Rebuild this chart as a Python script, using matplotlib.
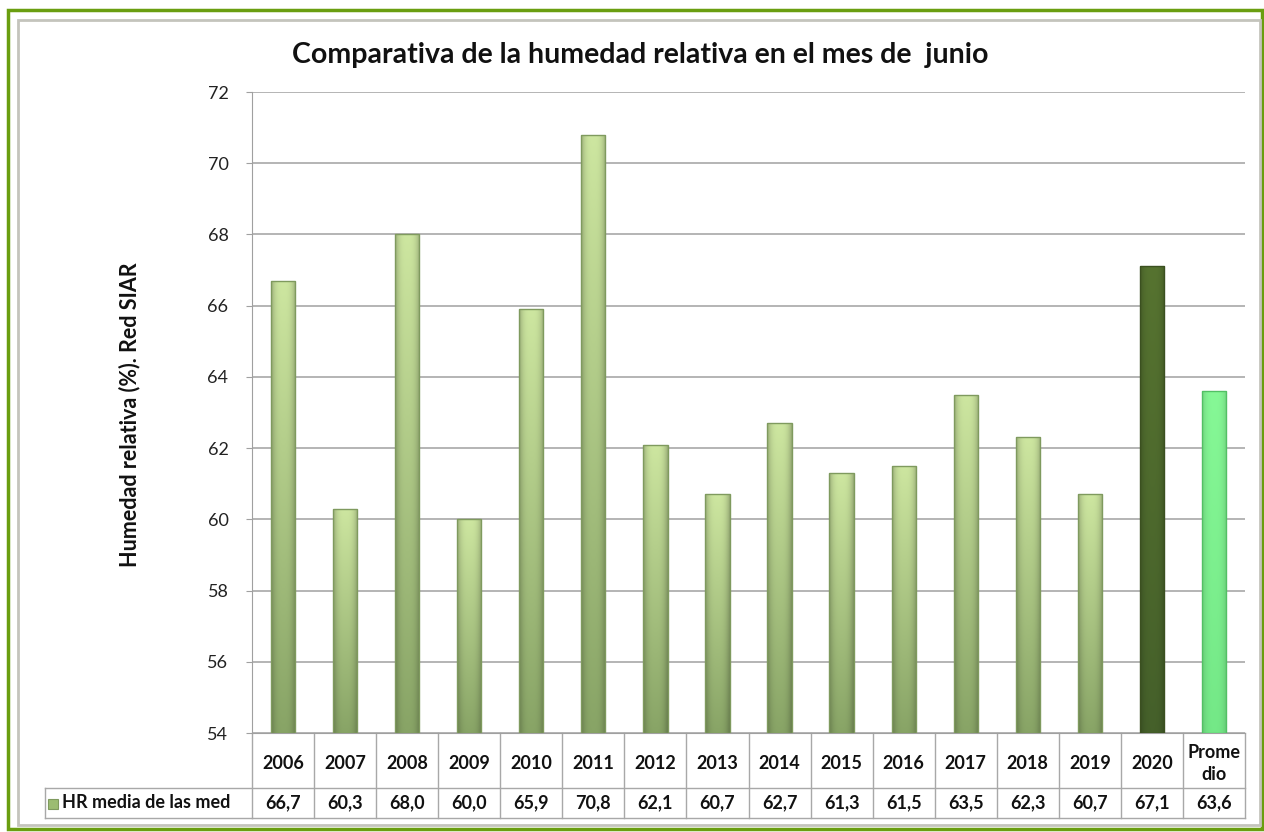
import numpy as np
import matplotlib
matplotlib.use("Agg")
import matplotlib.pyplot as plt
from matplotlib.transforms import blended_transform_factory
from matplotlib.patches import Rectangle
from matplotlib.colors import to_rgb

categories = ["2006", "2007", "2008", "2009", "2010", "2011", "2012", "2013",
              "2014", "2015", "2016", "2017", "2018", "2019", "2020", "Prome\ndio"]
values = [66.7, 60.3, 68.0, 60.0, 65.9, 70.8, 62.1, 60.7, 62.7, 61.3, 61.5,
          63.5, 62.3, 60.7, 67.1, 63.6]
value_labels = ["66,7", "60,3", "68,0", "60,0", "65,9", "70,8", "62,1", "60,7",
                "62,7", "61,3", "61,5", "63,5", "62,3", "60,7", "67,1", "63,6"]
series_name = "HR media de las med"
title = "Comparativa de la humedad relativa en el mes de  junio"
ylabel = "Humedad relativa (%). Red SIAR"
yticks = [54, 56, 58, 60, 62, 64, 66, 68, 70, 72]

plt.rcParams['font.family'] = ['Lato', 'DejaVu Sans']

W, H = 1264, 832
fig = plt.figure(figsize=(W / 100, H / 100), dpi=100)
fig.patch.set_facecolor("white")

def fx(px):
    return px / W

def fy(py):
    return 1 - py / H

# frames
fig.patches.append(Rectangle((fx(8), fy(829)), fx(1262) - fx(8), fy(10) - fy(829),
                             transform=fig.transFigure, fill=False,
                             edgecolor="#6a9e10", lw=2.5, zorder=0))
fig.patches.append(Rectangle((fx(18), fy(825)), fx(1260) - fx(18), fy(20) - fy(825),
                             transform=fig.transFigure, fill=False,
                             edgecolor="#c4c4bc", lw=2, zorder=0))

left, right, top, bottom = 252, 1245, 92, 733
ax = fig.add_axes([fx(left), fy(bottom), fx(right) - fx(left), fy(top) - fy(bottom)])
ax.set_facecolor("none")

n = len(categories)
x = np.arange(n)
ax.set_xlim(-0.5, n - 0.5)
ax.set_ylim(54, 72)
ax.set_yticks(yticks)
ax.set_yticklabels([str(t) for t in yticks], fontsize=13, color="#222222")
ax.tick_params(axis="y", length=4, color="#a0a0a0", pad=13)
ax.set_xticks([])
ax.yaxis.grid(True, color="#a8a8a8", lw=1.2)
ax.set_axisbelow(True)
for s in ["top", "right"]:
    ax.spines[s].set_visible(False)
ax.spines["left"].set_color("#a0a0a0")
ax.spines["bottom"].set_color("#a0a0a0")

bar_w = 0.39

def shade_img(top_c, bot_c, edge_dark=0.75):
    top_c = np.array(to_rgb(top_c))
    bot_c = np.array(to_rgb(bot_c))
    ny, nx = 100, 40
    t = np.linspace(0, 1, ny)[:, None, None]
    base = top_c * (1 - t) + bot_c * t
    u = np.linspace(-1, 1, nx)[None, :, None]
    f = 1 - (1 - edge_dark) * np.abs(u) ** 3
    img = base * f
    return np.clip(img, 0, 1)

img_normal = shade_img("#cde6a0", "#88a466")
img_2020 = shade_img("#567330", "#45602a", 0.8)
img_avg = shade_img("#86f896", "#74e887", 0.85)
imgs = [img_normal] * 14 + [img_2020, img_avg]
edges = ["#7f9a5e"] * 14 + ["#3b5020", "#52c064"]

bars = ax.bar(x, [v - 54 for v in values], bottom=54, width=bar_w,
              facecolor="none", edgecolor="none", zorder=3)
for i, b in enumerate(bars):
    xb, yb = b.get_x(), b.get_y()
    wb, hb = b.get_width(), b.get_height()
    im = ax.imshow(imgs[i], extent=[xb, xb + wb, yb, yb + hb], aspect="auto",
                   origin="upper", zorder=3, interpolation="bilinear")
    im.set_clip_path(b)
    ax.add_patch(Rectangle((xb, yb), wb, hb, fill=False, edgecolor=edges[i],
                           lw=1.0, zorder=4))
ax.set_xlim(-0.5, n - 0.5)
ax.set_ylim(54, 72)

# title and ylabel
fig.text(fx(640), fy(55), title, ha="center", va="center", fontsize=20.5,
         fontweight="bold", color="#111111")
fig.text(fx(130), fy(415), ylabel, ha="center", va="center", rotation=90,
         fontsize=15.5, fontweight="bold", color="#111111")

# data table below the axis
tr = blended_transform_factory(ax.transData, fig.transFigure)
line_c = "#a8a8a8"
y_head_top, y_mid, y_bot = 733, 788, 818
for i in range(n + 1):
    xv = i - 0.5
    ax.plot([xv, xv], [fy(y_head_top), fy(y_bot)], transform=tr, color=line_c,
            lw=1.0, clip_on=False)
ax.plot([-0.5, n - 0.5], [fy(y_bot), fy(y_bot)], transform=tr, color=line_c,
        lw=1.0, clip_on=False)
fig.lines.append(plt.Line2D([fx(45), fx(right)], [fy(y_mid), fy(y_mid)],
                            transform=fig.transFigure, color=line_c, lw=1.0))
fig.lines.append(plt.Line2D([fx(45), fx(left)], [fy(y_bot), fy(y_bot)],
                            transform=fig.transFigure, color=line_c, lw=1.0))
fig.lines.append(plt.Line2D([fx(45), fx(45)], [fy(y_mid), fy(y_bot)],
                            transform=fig.transFigure, color=line_c, lw=1.0))

for i, c in enumerate(categories):
    ax.text(i, fy((y_head_top + y_mid) / 2 + 3), c, transform=tr, ha="center",
            va="center", fontsize=13, fontweight="bold", color="#111111",
            linespacing=1.35)
    ax.text(i, fy((y_mid + y_bot) / 2), value_labels[i], transform=tr,
            ha="center", va="center", fontsize=13, fontweight="bold",
            color="#111111")

fig.patches.append(Rectangle((fx(48), fy(809)), fx(10), 10 / H,
                             transform=fig.transFigure, facecolor="#9cbc72",
                             edgecolor="#7f9a5e", lw=0.8))
fig.text(fx(62), fy(803), series_name, ha="left", va="center", fontsize=13,
         fontweight="bold", color="#111111")

fig.savefig("out.png", dpi=100)
